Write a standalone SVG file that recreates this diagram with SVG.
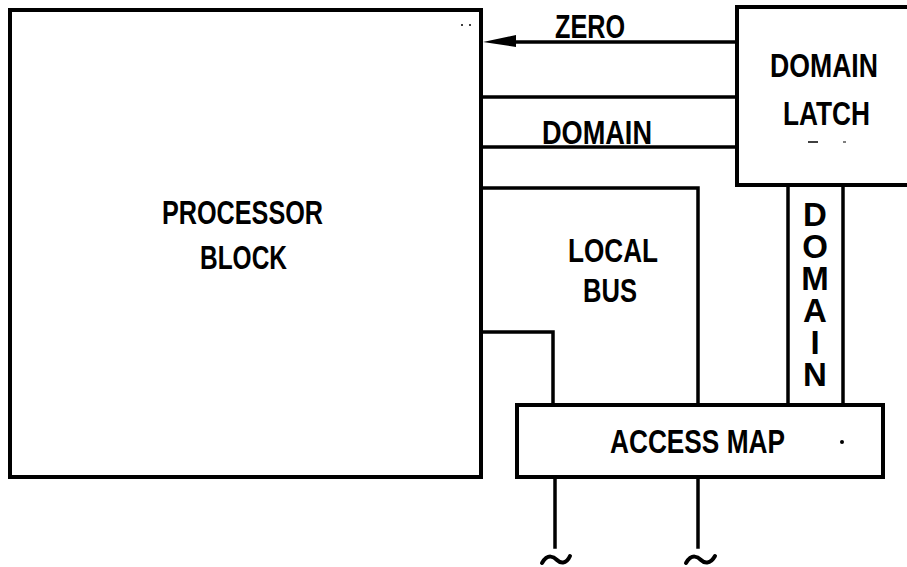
<svg xmlns="http://www.w3.org/2000/svg" width="907" height="567" viewBox="0 0 907 567">
<style>
.box{fill:none;stroke:#000;stroke-width:4;stroke-linejoin:miter}
.ln{fill:none;stroke:#000;stroke-width:3.5;stroke-linecap:square}
.t{font-family:"Liberation Sans",Arial,sans-serif;font-weight:bold;font-size:33px;fill:#000}
.v{font-family:"Liberation Sans",Arial,sans-serif;font-weight:bold;font-size:33px;fill:#000;writing-mode:vertical-rl;text-orientation:upright;letter-spacing:-5px}
</style>
<rect width="907" height="567" fill="#fff"/>
<g id="processor-block">
<rect class="box" x="10" y="10" width="471" height="467"/>
<text class="t" x="162" y="224" textLength="161" lengthAdjust="spacingAndGlyphs">PROCESSOR</text>
<text class="t" x="200" y="269" textLength="87" lengthAdjust="spacingAndGlyphs">BLOCK</text>
<circle cx="462" cy="25" r="1" fill="#000"/>
<circle cx="470" cy="25" r="1" fill="#000"/>
</g>
<g id="domain-latch">
<path class="box" d="M912,7 H737 V185 H912"/>
<text class="t" x="770" y="77" textLength="108" lengthAdjust="spacingAndGlyphs">DOMAIN</text>
<text class="t" x="783" y="125" textLength="87" lengthAdjust="spacingAndGlyphs">LATCH</text>
<line x1="808" y1="142" x2="818" y2="142" stroke="#000" stroke-width="1.5"/>
<line x1="843" y1="142" x2="846" y2="142" stroke="#000" stroke-width="1"/>
</g>
<g id="access-map">
<rect class="box" x="517" y="405" width="366" height="72"/>
<text class="t" x="610" y="453" textLength="175" lengthAdjust="spacingAndGlyphs">ACCESS MAP</text>
<circle cx="842" cy="442" r="2" fill="#000"/>
</g>
<g id="connectors">
<line class="ln" x1="500" y1="42" x2="737" y2="42"/>
<path d="M483,42 L516,35 L516,47 Z" fill="#000"/>
<line class="ln" x1="483" y1="97" x2="737" y2="97"/>
<line class="ln" x1="483" y1="147" x2="737" y2="147"/>
<polyline class="ln" points="483,188 698,188 698,405"/>
<polyline class="ln" points="483,332 553,332 553,405"/>
<line class="ln" x1="788" y1="187" x2="788" y2="405"/>
<line class="ln" x1="843" y1="187" x2="843" y2="405"/>
<line class="ln" x1="555" y1="479" x2="555" y2="547"/>
<line class="ln" x1="698" y1="479" x2="698" y2="547"/>
<path d="M542,563 C548,553 554,557 557,560 C560,563 566,565 570,556" fill="none" stroke="#000" stroke-width="4" stroke-linecap="round"/>
<path d="M686,563 C692,553 698,557 701,560 C704,563 710,565 715,556" fill="none" stroke="#000" stroke-width="4" stroke-linecap="round"/>
<text class="t" x="555" y="38" textLength="70" lengthAdjust="spacingAndGlyphs">ZERO</text>
<text class="t" x="542" y="144" textLength="110" lengthAdjust="spacingAndGlyphs">DOMAIN</text>
<text class="t" x="568" y="262" textLength="90" lengthAdjust="spacingAndGlyphs">LOCAL</text>
<text class="t" x="583" y="302" textLength="54" lengthAdjust="spacingAndGlyphs">BUS</text>
<text class="v" x="815" y="196">DOMAIN</text>
</g>
</svg>
